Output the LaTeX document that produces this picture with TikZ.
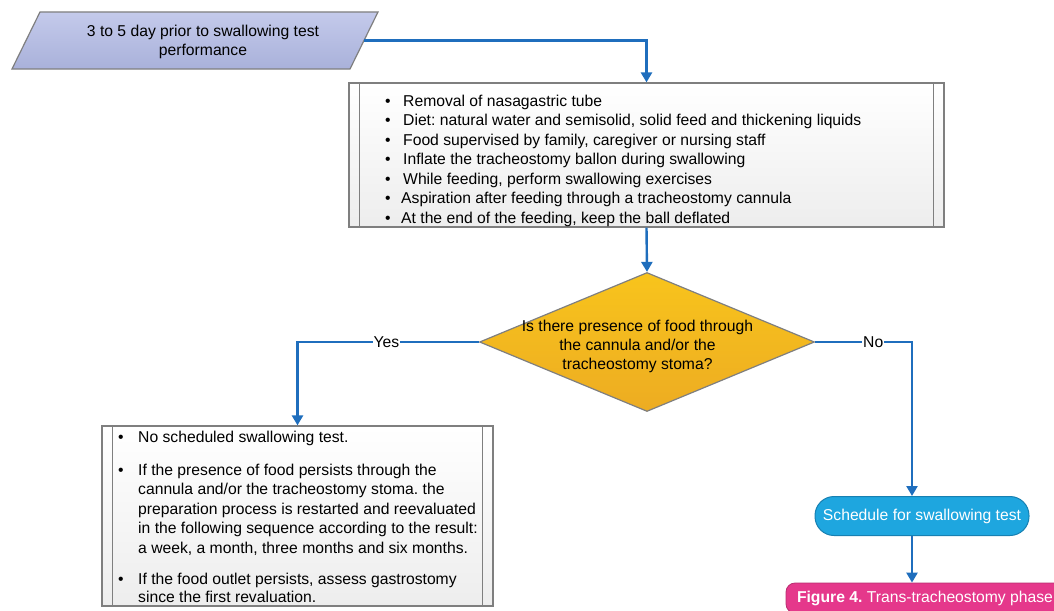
\documentclass[tikz,border=0pt]{standalone}
\usepackage{fontspec}
\setmainfont{Liberation Sans}
\usetikzlibrary{shapes.geometric,arrows.meta}
\definecolor{connblue}{HTML}{1F6EBD}
\definecolor{edgegray}{HTML}{7F7F7F}
\definecolor{paraTop}{HTML}{C4CAEB}
\definecolor{paraBot}{HTML}{A9B1DA}
\definecolor{goldTop}{HTML}{F8C41C}
\definecolor{goldBot}{HTML}{EDAC22}
\definecolor{schedBlue}{HTML}{1EA6DF}
\definecolor{schedEdge}{HTML}{1780B2}
\definecolor{figPink}{HTML}{E5388B}
\newcommand{\bul}[1]{\makebox[#1][l]{\textbullet}}
\frenchspacing
\begin{document}
\begin{tikzpicture}[x=1pt,y=-1pt,
  font=\fontsize{15.7}{19}\selectfont,
  conn/.style={draw=connblue, line width=2.4pt, -{Triangle[width=11pt,length=10pt]}},
  edgeline/.style={draw=edgegray, line width=1.2pt},
  procbox/.style={rectangle, edgeline, top color=white, bottom color=gray!14, inner sep=0pt},
  linetext/.style={anchor=base west, inner sep=0pt},
  lbl/.style={fill=white, inner sep=1pt}
]
\useasboundingbox (0,0) rectangle (1054,610);

% start parallelogram
\draw[edgeline, top color=paraTop, bottom color=paraBot] (40,12) -- (378,12) -- (350,69) -- (12,69) -- cycle;
\node[align=center, inner sep=0pt] (start) at (203,42) {3 to 5 day prior to swallowing test\\performance};
\coordinate (startE) at (364,40.5);

% preparation box
\node[procbox, minimum width=595pt, minimum height=144pt] (procA) at (646.5,155) {};
\draw[edgeline] ([xshift=11pt]procA.north west) -- ([xshift=11pt]procA.south west);
\draw[edgeline] ([xshift=-11pt]procA.north east) -- ([xshift=-11pt]procA.south east);
\node[linetext] (a1) at (385,106) {\bul{18pt}Removal of nasagastric tube};
\node[linetext] (a2) at (385,125.5) {\bul{18pt}Diet: natural water and semisolid, solid feed and thickening liquids};
\node[linetext] (a3) at (385,145) {\bul{18pt}Food supervised by family, caregiver or nursing staff};
\node[linetext] (a4) at (385,164.5) {\bul{18pt}Inflate the tracheostomy ballon during swallowing};
\node[linetext] (a5) at (385,184) {\bul{18pt}While feeding, perform swallowing exercises};
\node[linetext] (a6) at (385,203.5) {\bul{16pt}Aspiration after feeding through a tracheostomy cannula};
\node[linetext] (a7) at (385,223) {\bul{16pt}At the end of the feeding, keep the ball deflated};

% decision
\node[diamond, aspect=2.41, minimum width=335pt, minimum height=139pt, inner sep=0pt,
      edgeline, top color=goldTop, bottom color=goldBot] (dec) at (647,342) {};
\node[align=center, inner sep=0pt] (decT) at (637.5,346) {Is there presence of food through\\the cannula and/or the\\tracheostomy stoma?};

% left result box
\node[procbox, minimum width=391pt, minimum height=180pt] (procB) at (297.5,516) {};
\draw[edgeline] ([xshift=11pt]procB.north west) -- ([xshift=11pt]procB.south west);
\draw[edgeline] ([xshift=-11pt]procB.north east) -- ([xshift=-11pt]procB.south east);
\node[linetext] (b1) at (118,442) {\bul{20pt}No scheduled swallowing test.};
\node[linetext] (b2) at (118,475) {\bul{20pt}If the presence of food persists through the};
\node[linetext] (b3) at (138,494.5) {cannula and/or the tracheostomy stoma. the};
\node[linetext] (b4) at (138,514) {preparation process is restarted and reevaluated};
\node[linetext] (b5) at (138,533.5) {in the following sequence according to the result:};
\node[linetext] (b6) at (138,553) {a week, a month, three months and six months.};
\node[linetext] (b7) at (118,584) {\bul{20pt}If the food outlet persists, assess gastrostomy};
\node[linetext] (b8) at (138,602) {since the first revaluation.};

% schedule terminator
\node[rectangle, rounded corners=19pt, minimum width=214pt, minimum height=39pt, inner sep=0pt,
      fill=schedBlue, draw=schedEdge, line width=1pt, text=white] (sched) at (922,516) {Schedule for swallowing test};

% figure caption
\node[rectangle, rounded corners=9pt, minimum width=278pt, minimum height=30pt, inner sep=0pt,
      fill=figPink, draw=figPink!80!black, line width=0.8pt, text=white] (fig) at (925,598)
      {\textbf{Figure 4.} Trans-tracheostomy phase\hspace{5pt}};

% connectors
\coordinate (noX) at (912,0);
\draw[conn] (startE) -| (procA.north);
\draw[conn] (procA.south) -- (dec.north);
\draw[conn] (dec.west) -| node[lbl, pos=0.255] (yes) {Yes} (procB.north);
\draw[conn] (dec.east) -| node[lbl, pos=0.3] (no) {No} (noX |- sched.north);
\draw[conn] (noX |- sched.south) -- (noX |- fig.north);
\end{tikzpicture}
\end{document}
